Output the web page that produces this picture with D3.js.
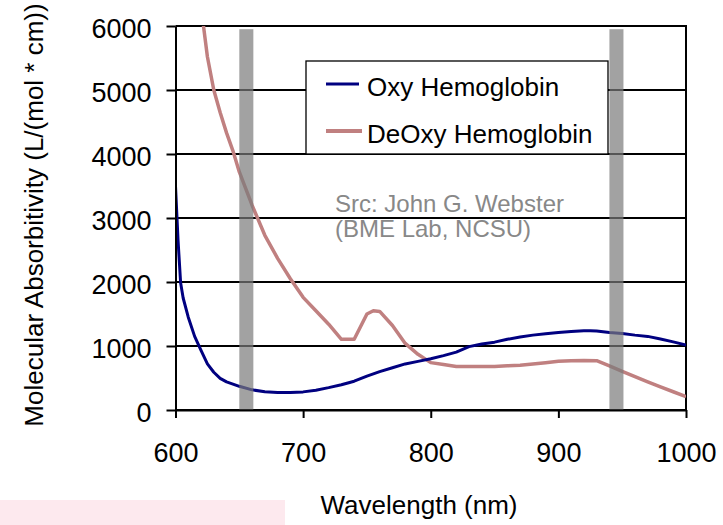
<!DOCTYPE html>
<html>
<head>
<meta charset="utf-8">
<script src="https://cdn.jsdelivr.net/npm/d3@7/dist/d3.min.js"></script>
<style>
  html, body { margin: 0; padding: 0; background: #fff; }
  svg { display: block; font-family: "Liberation Sans", Arial, sans-serif; }
</style>
</head>
<body>
<svg id="chart" width="723" height="525"></svg>
<script>
// Molar absorptivity of hemoglobin, L/(mol*cm), by wavelength (nm)
const oxyWavelength = [600, 602, 604, 606, 610, 615, 620, 625, 630, 635, 640, 650, 660, 670, 680, 690, 700,
  710, 720, 730, 740, 750, 760, 770, 780, 790, 800, 810, 820, 830, 840, 850, 860, 870, 880, 890, 900,
  910, 920, 925, 930, 940, 950, 960, 970, 980, 990, 1000];
const oxyValues = [3500, 2650, 1990, 1750, 1450, 1150, 930, 720, 590, 495, 440, 370, 315, 285, 272, 272, 283,
  310, 350, 395, 450, 530, 600, 660, 720, 760, 800, 850, 905, 990, 1030, 1060, 1105, 1140, 1170, 1192, 1210,
  1225, 1238, 1240, 1235, 1212, 1195, 1170, 1150, 1110, 1065, 1016];

const deoxyWavelength = [620, 625, 630, 635, 640, 645, 650, 660, 670, 680, 690, 700, 710, 720, 730, 740, 750, 755, 760,
  770, 780, 790, 800, 810, 820, 830, 840, 850, 860, 870, 880, 890, 900, 910, 920, 930, 940, 950, 960,
  970, 980, 990, 1000];
const deoxyValues = [6300, 5520, 5000, 4650, 4330, 4050, 3720, 3200, 2730, 2370, 2050, 1760, 1550, 1340, 1105, 1105, 1500, 1550, 1540,
  1320, 1040, 870, 740, 710, 680, 680, 680, 680, 690, 700, 720, 740, 760, 770, 775, 770, 690, 605, 520,
  440, 360, 285, 208];

// Highlighted wavelength bands (nm)
const bandStart = [650, 940];
const bandEnd = [661, 951];
const bandTop = 5950;

const seriesNames = ["Oxy Hemoglobin", "DeOxy Hemoglobin"];
const xTicks = [600, 700, 800, 900, 1000];
const yTicks = [0, 1000, 2000, 3000, 4000, 5000, 6000];

const oxy = oxyWavelength.map((w, i) => ({ w, v: oxyValues[i] }));
const deoxy = deoxyWavelength.map((w, i) => ({ w, v: deoxyValues[i] }));
const bands = bandStart.map((s, i) => ({ s, e: bandEnd[i] }));

const svg = d3.select("#chart");
const plotLeft = 175.5, plotRight = 686, plotTop = 26, plotBottom = 410;

const x = d3.scaleLinear().domain([600, 1000]).range([plotLeft, plotRight]);
const y = d3.scaleLinear().domain([0, 6000]).range([plotBottom, plotTop]);

// pink strip at the bottom-left
svg.append("rect").attr("x", 0).attr("y", 500).attr("width", 285).attr("height", 25).attr("fill", "#fde9ee");

svg.append("defs").append("clipPath").attr("id", "plotClip")
  .append("rect").attr("x", plotLeft).attr("y", plotTop)
  .attr("width", plotRight - plotLeft).attr("height", plotBottom - plotTop);

// horizontal gridlines
svg.append("g").selectAll("line").data(yTicks).join("line")
  .attr("x1", plotLeft).attr("x2", plotRight)
  .attr("y1", d => y(d)).attr("y2", d => y(d))
  .attr("stroke", "#000").attr("stroke-width", 2);

// right border
svg.append("line").attr("x1", plotRight).attr("x2", plotRight).attr("y1", plotTop - 1).attr("y2", plotBottom)
  .attr("stroke", "#000").attr("stroke-width", 2);

// curves
const line = d3.line().x(d => x(d.w)).y(d => y(d.v));
const curves = svg.append("g").attr("clip-path", "url(#plotClip)");
curves.append("path").datum(deoxy).attr("d", line)
  .attr("fill", "none").attr("stroke", "#c08080").attr("stroke-width", 3.5).attr("stroke-linejoin", "round");
curves.append("path").datum(oxy).attr("d", line)
  .attr("fill", "none").attr("stroke", "#000080").attr("stroke-width", 3).attr("stroke-linejoin", "round");

// wavelength bands
svg.append("g").selectAll("rect").data(bands).join("rect")
  .attr("x", d => x(d.s)).attr("width", d => x(d.e) - x(d.s))
  .attr("y", y(bandTop)).attr("height", y(0) - y(bandTop))
  .attr("fill", "#7a7a7a").attr("fill-opacity", 0.7);

// axes
const yAxis = svg.append("g").attr("transform", `translate(${plotLeft},0)`)
  .call(d3.axisLeft(y).tickValues(yTicks).tickSize(9).tickPadding(15).tickSizeOuter(0).tickFormat(d3.format("d")));
const xAxis = svg.append("g").attr("transform", `translate(0,${plotBottom})`)
  .call(d3.axisBottom(x).tickValues(xTicks).tickSize(8).tickPadding(24.5).tickSizeOuter(0).tickFormat(d3.format("d")));
[yAxis, xAxis].forEach(g => {
  g.select(".domain").attr("stroke", "#000").attr("stroke-width", 2);
  g.selectAll(".tick line").attr("stroke", "#000").attr("stroke-width", 2);
  g.selectAll(".tick text").attr("fill", "#000").style("font-size", "27px")
    .style("font-family", "'Liberation Sans', Arial, sans-serif");
});
yAxis.selectAll(".tick text").attr("dy", "0.42em");

// axis titles
svg.append("text").attr("x", 419).attr("y", 514).attr("text-anchor", "middle")
  .style("font-size", "26px").attr("fill", "#000").text("Wavelength (nm)");
svg.append("text").attr("transform", "translate(43,215) rotate(-90)").attr("text-anchor", "middle")
  .style("font-size", "26px").attr("fill", "#000").text("Molecular Absorbitivity (L/(mol * cm))");

// source note
const src = svg.append("text").style("font-size", "24px").attr("fill", "#888");
src.append("tspan").attr("x", 335).attr("y", 211.5).text("Src: John G. Webster");
src.append("tspan").attr("x", 335).attr("y", 237).text("(BME Lab, NCSU)");

// legend
const legend = svg.append("g");
legend.append("rect").attr("x", 306).attr("y", 61).attr("width", 302).attr("height", 93)
  .attr("fill", "#fff").attr("stroke", "#000").attr("stroke-width", 1.3);
const legendColors = ["#000080", "#c08080"];
const legendWidths = [3, 4];
const legendRows = [84, 131];
seriesNames.forEach((name, i) => {
  legend.append("line").attr("x1", 326).attr("x2", i === 0 ? 359 : 362)
    .attr("y1", legendRows[i]).attr("y2", legendRows[i])
    .attr("stroke", legendColors[i]).attr("stroke-width", legendWidths[i]);
  legend.append("text").attr("x", 367).attr("y", legendRows[i] + 11.5)
    .style("font-size", "26px").attr("fill", "#000").text(name);
});
</script>
</body>
</html>
